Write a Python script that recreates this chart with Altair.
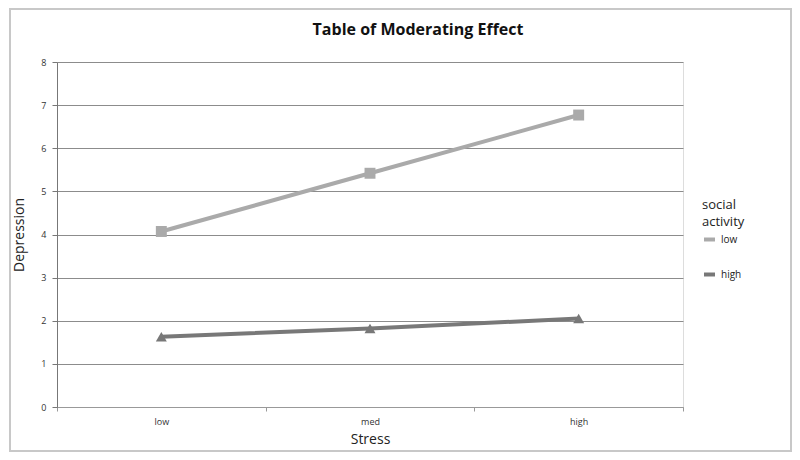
import altair as alt
import pandas as pd

stress = ["low", "med", "high"]
social = ["low", "high"]
depression_low_social = [4.07, 5.42, 6.77]
depression_high_social = [1.63, 1.82, 2.05]

rows = []
for s, v in zip(stress, depression_low_social):
    rows.append({"Stress": s, "social": "low", "marker": "low", "Depression": v})
for s, v in zip(stress, depression_high_social):
    rows.append({"Stress": s, "social": "high", "marker": "high", "Depression": v})
df = pd.DataFrame(rows)

FONT = "Open Sans"
colors = ["#aaaaaa", "#787878"]

color = alt.Color("social:N", scale=alt.Scale(domain=social, range=colors),
                  legend=alt.Legend(title=["social", "activity"], orient="none", legendX=645, legendY=137,
                                    symbolType="stroke", symbolStrokeWidth=4, symbolSize=120,
                                    titleFont=FONT, titleFontSize=13, titleFontWeight="normal",
                                    titleLineHeight=17,
                                    titleColor="#222", labelFont=FONT, labelFontSize=10,
                                    labelColor="#222", rowPadding=18, titlePadding=3))

x = alt.X("Stress:N", sort=stress, scale=alt.Scale(paddingInner=0, paddingOuter=0),
          axis=alt.Axis(title="Stress", labelAngle=0, tickBand="extent", grid=False, titleFont=FONT,
                        titleFontSize=14, titleFontWeight="normal", titleColor="#222",
                        labelFont=FONT, labelFontSize=9, labelColor="#333",
                        domainColor="#999", tickColor="#999", tickSize=4, titlePadding=6,
                        labelPadding=6))
y = alt.Y("Depression:Q", scale=alt.Scale(domain=[0, 8]),
          axis=alt.Axis(title="Depression", values=list(range(9)), titleFont=FONT, titleFontSize=14,
                        titleFontWeight="normal", titleColor="#222", labelFont=FONT,
                        labelFontSize=9, labelColor="#333", grid=True, gridColor="#8c8c8c",
                        domainColor="#777", tickColor="#777", tickSize=5, titlePadding=14,
                        labelPadding=6))

base = alt.Chart(df)
line = base.mark_line(strokeWidth=4).encode(x=x, y=y, color=color)
pts = base.mark_point(filled=True, size=120, opacity=1).encode(
    x=x, y=y,
    color=alt.Color("marker:N", scale=alt.Scale(domain=social, range=colors), legend=None),
    shape=alt.Shape("marker:N", scale=alt.Scale(domain=social, range=["square", "triangle-up"]), legend=None))

# decorative outer border of the chart image (pixel offsets relative to plot area)
frame = alt.Chart(pd.DataFrame({"a": [0]})).mark_rect(
    fillOpacity=0, stroke="#c8c8c8", strokeWidth=2, clip=False).encode(
    x=alt.value(-47), x2=alt.value(734), y=alt.value(-53), y2=alt.value(389))

title = alt.Chart(pd.DataFrame({"t": ["Table of Moderating Effect"]})).mark_text(
    font=FONT, fontSize=16, fontWeight="bold", color="#111").encode(
    text="t:N", x=alt.value(361), y=alt.value(-32))

chart = alt.layer(frame, line, pts, title).resolve_scale(color="independent").properties(
    width=626, height=345,
    autosize=alt.AutoSizeParams(type="none"),
    padding={"left": 49, "top": 54, "right": 109, "bottom": 45},
).configure_view(strokeWidth=0, stroke="transparent", strokeOpacity=0).configure_axisX(
    grid=False).configure(background="white")

chart.save("out.html", embed_options={"renderer": "svg", "actions": False})
